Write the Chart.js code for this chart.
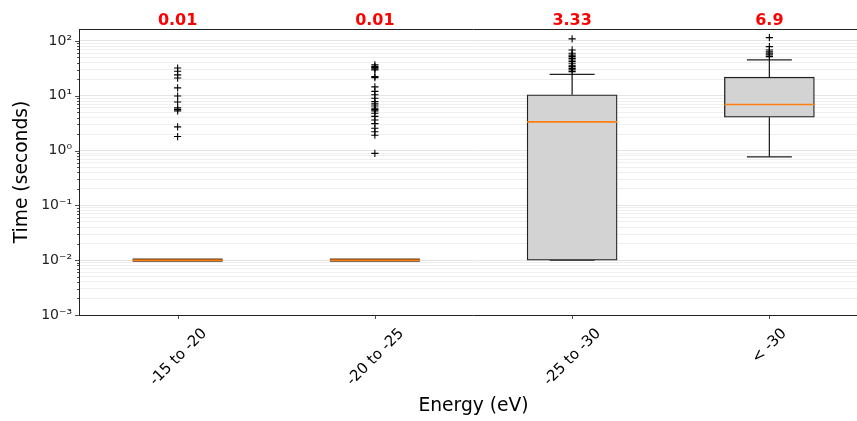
<!DOCTYPE html>
<html>
<head>
<meta charset="utf-8">
<script src="https://cdn.jsdelivr.net/npm/chart.js@4.4.0/dist/chart.umd.min.js"></script>
<style>
  html, body { margin: 0; padding: 0; background: #fff; overflow: hidden; }
  #wrap { width: 880px; height: 421px; }
</style>
</head>
<body>
<div id="wrap"><canvas id="myChart" width="880" height="421"></canvas></div>
<script>
const labels = ['-15 to -20', '-20 to -25', '-25 to -30', '< -30'];
const q1 = [0.01, 0.01, 0.01, 4.06];
const q3 = [0.01, 0.01, 10.4, 21.8];
const medians = [0.01, 0.01, 3.33, 6.9];
const whiskerLow = [0.01, 0.01, 0.01, 0.77];
const whiskerHigh = [0.01, 0.01, 24.6, 45];
const outliers = [
    [32, 28, 24, 21, 13.9, 9.9, 7.7, 6, 5.6, 5.3, 2.7, 1.8],
    [36.5, 34, 32.6, 31, 29.6, 22.5, 21.4, 14.5, 12, 10.4, 9, 7.8, 7.1, 6.5, 5.9, 5.6, 5.3, 4.8, 4.2, 3.6, 3.1, 2.55, 2.2, 1.9, 0.89],
    [109, 68.5, 59.7, 55, 51.8, 48, 45, 42, 39.2, 36, 34, 31.5, 29.6, 27.5],
    [115, 78.7, 68.5, 63, 59.7, 55.6, 51.8]
];
const yDecades = [0.001, 0.01, 0.1, 1, 10, 100];
const yMin = 0.001;
const yMax = 165;

const FONT = 'DejaVu Sans';

// major + minor tick values for the log axis
let yTicks = [];
for (const d of yDecades) {
    for (let m = 1; m <= 9; m++) {
        const v = +(m * d).toPrecision(6);
        if (v <= yMax) yTicks.push(v);
    }
}
function isMajor(v) {
    const l = Math.log10(v);
    return Math.abs(l - Math.round(l)) < 1e-9;
}
const sup = { '-': '⁻', '0': '⁰', '1': '¹', '2': '²', '3': '³', '4': '⁴', '5': '⁵', '6': '⁶', '7': '⁷', '8': '⁸', '9': '⁹' };
function powLabel(v) {
    const e = String(Math.round(Math.log10(v)));
    return '10' + e.split('').map(c => sup[c]).join('');
}

function hline(ctx, x1, x2, y) {
    ctx.beginPath(); ctx.moveTo(x1, y); ctx.lineTo(x2, y); ctx.stroke();
}
function vline(ctx, x, y1, y2) {
    ctx.beginPath(); ctx.moveTo(x, y1); ctx.lineTo(x, y2); ctx.stroke();
}

const boxParts = {
    id: 'boxParts',
    beforeDatasetsDraw(chart) {
        const { ctx, scales: { x, y } } = chart;
        const bars = chart.getDatasetMeta(1).data;
        ctx.save();
        ctx.strokeStyle = '#222';
        ctx.lineWidth = 1.3;
        labels.forEach((lab, i) => {
            const cx = x.getPixelForValue(i);
            const half = bars[i].width / 4;
            const lo = y.getPixelForValue(whiskerLow[i]);
            const hi = y.getPixelForValue(whiskerHigh[i]);
            vline(ctx, cx, y.getPixelForValue(q1[i]), lo);
            vline(ctx, cx, y.getPixelForValue(q3[i]), hi);
            hline(ctx, cx - half, cx + half, lo);
            hline(ctx, cx - half, cx + half, hi);
        });
        ctx.restore();
    },
    afterDatasetsDraw(chart) {
        const { ctx, scales: { x, y } } = chart;
        const bars = chart.getDatasetMeta(1).data;
        ctx.save();
        labels.forEach((lab, i) => {
            const cx = x.getPixelForValue(i);
            const half = bars[i].width / 2;
            const py = y.getPixelForValue(medians[i]);
            if (q1[i] === q3[i]) {
                // flat box: edges collapse onto the median
                ctx.strokeStyle = '#5a3a1a';
                ctx.lineWidth = 3.2;
                hline(ctx, cx - half, cx + half, py);
            }
            ctx.strokeStyle = '#ff7f0e';
            ctx.lineWidth = 1.6;
            hline(ctx, cx - half, cx + half, py);
        });
        ctx.restore();
    },
    afterDraw(chart) {
        const { ctx, chartArea: a, scales: { x, y } } = chart;
        ctx.save();
        // spines
        ctx.strokeStyle = '#222';
        ctx.lineWidth = 1;
        hline(ctx, a.left, a.right, Math.round(a.top) + 0.5);
        hline(ctx, a.left, a.right, Math.round(a.bottom) + 0.5);
        vline(ctx, Math.round(a.left) + 0.5, a.top, a.bottom);
        // y ticks
        ctx.lineWidth = 0.8;
        yTicks.forEach(v => {
            const py = Math.round(y.getPixelForValue(v)) + 0.5;
            hline(ctx, a.left - (isMajor(v) ? 4 : 2), a.left, py);
        });
        // x ticks and rotated labels
        ctx.fillStyle = '#000';
        ctx.font = '15px "' + FONT + '"';
        labels.forEach((lab, i) => {
            const px = Math.round(x.getPixelForValue(i)) + 0.5;
            vline(ctx, px, a.bottom, a.bottom + 4);
            const w = ctx.measureText(lab).width;
            const side = (w + 15 * 1.16) * Math.SQRT1_2;
            ctx.save();
            ctx.translate(px, a.bottom + 10 + side / 2);
            ctx.rotate(-Math.PI / 4);
            ctx.textAlign = 'center';
            ctx.textBaseline = 'middle';
            ctx.fillText(lab, 0, 0);
            ctx.restore();
        });
        // median labels above the plot
        ctx.fillStyle = 'red';
        ctx.font = 'bold 16px "' + FONT + '"';
        ctx.textAlign = 'center';
        ctx.textBaseline = 'middle';
        labels.forEach((lab, i) => {
            ctx.fillText(String(medians[i]), x.getPixelForValue(i), a.top - 8);
        });
        // axis titles
        ctx.fillStyle = '#000';
        ctx.font = '18.7px "' + FONT + '"';
        ctx.fillText('Energy (eV)', (a.left + a.right) / 2, 406);
        ctx.save();
        ctx.translate(22, (a.top + a.bottom) / 2);
        ctx.rotate(-Math.PI / 2);
        ctx.fillText('Time (seconds)', 0, 0);
        ctx.restore();
        ctx.restore();
    }
};

const ctx = document.getElementById('myChart');
const data = {
    labels: labels,
    datasets: [{
        type: 'line',
        data: outliers.flatMap((arr, i) => arr.map(v => ({ x: labels[i], y: v }))),
        showLine: false,
        pointStyle: 'cross',
        pointRadius: 3.6,
        borderColor: '#000',
        backgroundColor: '#000',
        pointBorderWidth: 1.1,
        order: 0,
    }, {
        type: 'bar',
        data: labels.map((l, i) => [q1[i], q3[i]]),
        backgroundColor: '#d3d3d3',
        borderColor: '#222',
        borderWidth: 1.3,
        borderSkipped: false,
        barThickness: 90,
        order: 1,
    }],
};
let myChart = new Chart(ctx, {
    data: data,
    options: {
        responsive: false,
        animation: false,
        events: [],
        layout: { padding: { top: 29, right: 12, left: 0, bottom: 0 } },
        plugins: { legend: { display: false }, tooltip: { enabled: false } },
        scales: {
            x: {
                type: 'category',
                offset: true,
                grid: { display: false, drawTicks: false },
                ticks: { display: false },
                border: { display: false },
                afterFit(s) { s.height = 106; }
            },
            y: {
                type: 'logarithmic',
                min: yMin,
                max: yMax,
                afterBuildTicks(s) { s.ticks = yTicks.map(v => ({ value: v, major: isMajor(v) })); },
                afterFit(s) { s.width = 79; },
                ticks: {
                    autoSkip: false,
                    padding: 7,
                    color: '#222',
                    font: { family: FONT, size: 14 },
                    callback: v => isMajor(v) ? powLabel(v) : ''
                },
                grid: {
                    drawTicks: false,
                    lineWidth: 1,
                    color: c => (c.tick && c.tick.major) ? '#e4e4e4' : '#efefef'
                },
                border: { display: false }
            }
        }
    },
    plugins: [boxParts]
});
</script>
</body>
</html>
